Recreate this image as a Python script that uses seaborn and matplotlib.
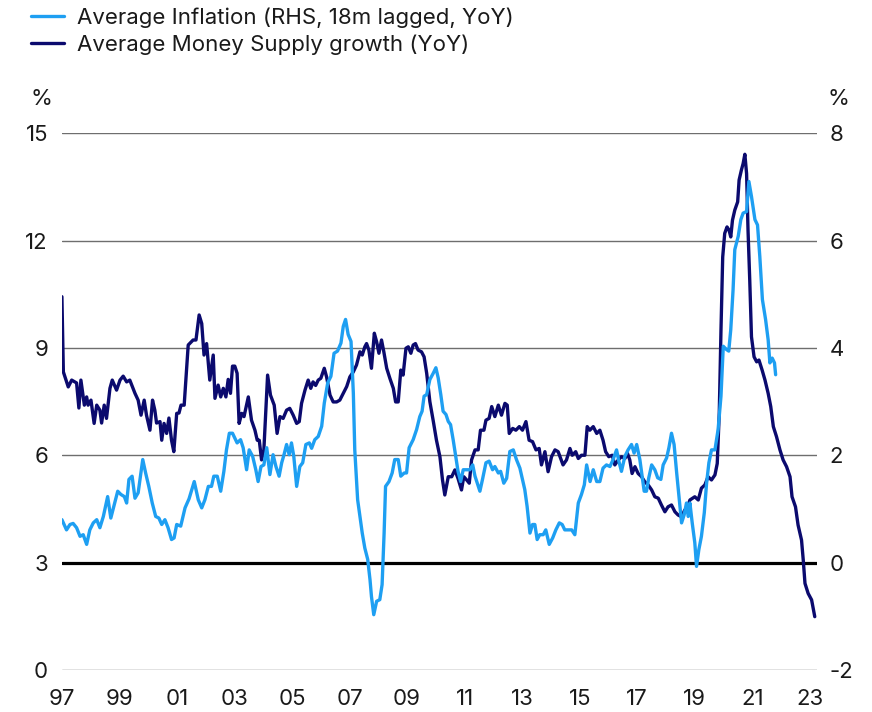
import matplotlib
matplotlib.use("Agg")
import matplotlib.pyplot as plt
import pandas as pd
import seaborn as sns

# Average money supply growth, YoY (left axis, %)
money_year = [
    1997.00, 1997.05, 1997.22, 1997.34, 1997.51, 1997.59, 1997.66, 1997.78, 1997.86, 1997.91,
    1998.01, 1998.12, 1998.21, 1998.32, 1998.38, 1998.47, 1998.55, 1998.67, 1998.75, 1998.90,
    1999.02, 1999.13, 1999.25, 1999.36, 1999.54, 1999.65, 1999.75, 1999.86, 1999.94, 2000.06,
    2000.15, 2000.23, 2000.29, 2000.41, 2000.47, 2000.55, 2000.64, 2000.72, 2000.81, 2000.89,
    2000.99, 2001.07, 2001.14, 2001.25, 2001.39, 2001.56, 2001.66, 2001.77, 2001.86, 2001.94,
    2002.03, 2002.14, 2002.26, 2002.32, 2002.43, 2002.52, 2002.61, 2002.70, 2002.78, 2002.86,
    2002.93, 2003.01, 2003.09, 2003.16, 2003.25, 2003.33, 2003.48, 2003.59, 2003.71, 2003.79,
    2003.86, 2003.94, 2004.02, 2004.15, 2004.25, 2004.38, 2004.48, 2004.58, 2004.69, 2004.81,
    2004.92, 2005.04, 2005.16, 2005.25, 2005.33, 2005.45, 2005.56, 2005.65, 2005.73, 2005.82,
    2005.91, 2006.00, 2006.12, 2006.20, 2006.32, 2006.43, 2006.55, 2006.66, 2006.78, 2006.90,
    2007.01, 2007.13, 2007.24, 2007.36, 2007.44, 2007.53, 2007.59, 2007.67, 2007.76, 2007.86,
    2007.94, 2008.02, 2008.11, 2008.19, 2008.29, 2008.40, 2008.52, 2008.60, 2008.69, 2008.78,
    2008.86, 2008.96, 2009.04, 2009.13, 2009.21, 2009.29, 2009.38, 2009.50, 2009.59, 2009.68,
    2009.79, 2009.91, 2010.02, 2010.14, 2010.23, 2010.31, 2010.43, 2010.55, 2010.66, 2010.77,
    2010.89, 2010.97, 2011.07, 2011.16, 2011.24, 2011.36, 2011.47, 2011.55, 2011.67, 2011.74,
    2011.85, 2011.94, 2012.05, 2012.17, 2012.28, 2012.40, 2012.48, 2012.55, 2012.67, 2012.78,
    2012.90, 2013.01, 2013.13, 2013.24, 2013.36, 2013.48, 2013.59, 2013.67, 2013.79, 2013.90,
    2014.02, 2014.14, 2014.25, 2014.42, 2014.54, 2014.66, 2014.74, 2014.86, 2014.95, 2015.06,
    2015.18, 2015.26, 2015.35, 2015.47, 2015.59, 2015.70, 2015.81, 2015.90, 2016.01, 2016.13,
    2016.22, 2016.34, 2016.45, 2016.57, 2016.66, 2016.74, 2016.82, 2016.92, 2017.03, 2017.15,
    2017.26, 2017.38, 2017.50, 2017.61, 2017.73, 2017.84, 2017.96, 2018.07, 2018.19, 2018.31,
    2018.42, 2018.54, 2018.65, 2018.71, 2018.83, 2019.00, 2019.12, 2019.23, 2019.35, 2019.46,
    2019.58, 2019.70, 2019.78, 2019.85, 2019.91, 2019.97, 2020.04, 2020.12, 2020.19, 2020.25,
    2020.31, 2020.39, 2020.49, 2020.54, 2020.62, 2020.68, 2020.74, 2020.80, 2020.85, 2020.91,
    2020.97, 2021.06, 2021.15, 2021.23, 2021.34, 2021.44, 2021.55, 2021.64, 2021.73, 2021.84,
    2021.96, 2022.07, 2022.19, 2022.31, 2022.38, 2022.50, 2022.59, 2022.71, 2022.77, 2022.83,
    2022.94, 2023.06, 2023.17,
]
money_growth = [
    10.43, 8.33, 7.91, 8.10, 8.02, 7.32, 8.10, 7.40, 7.63, 7.40,
    7.54, 6.89, 7.40, 7.26, 6.90, 7.40, 7.03, 7.87, 8.10, 7.82,
    8.10, 8.21, 8.05, 8.10, 7.73, 7.54, 7.12, 7.54, 7.12, 6.70,
    7.54, 7.26, 6.90, 6.94, 6.42, 6.89, 6.61, 7.04, 6.42, 6.10,
    7.17, 7.18, 7.40, 7.40, 9.08, 9.22, 9.22, 9.92, 9.68, 8.80,
    9.12, 8.10, 8.80, 7.59, 7.96, 7.63, 7.87, 7.63, 8.12, 7.73,
    8.49, 8.49, 8.29, 6.89, 7.17, 7.08, 7.63, 6.98, 6.70, 6.42,
    6.42, 5.87, 6.15, 8.24, 7.68, 7.40, 6.61, 7.08, 7.03, 7.26,
    7.31, 7.12, 6.89, 6.94, 7.45, 7.82, 8.10, 7.87, 8.05, 7.95,
    8.10, 8.15, 8.43, 8.19, 7.68, 7.49, 7.49, 7.54, 7.73, 7.92,
    8.19, 8.33, 8.52, 8.89, 8.80, 9.03, 9.12, 8.94, 8.43, 9.41,
    9.17, 8.85, 9.22, 8.89, 8.43, 8.15, 7.87, 7.49, 7.49, 8.38,
    8.24, 8.99, 9.03, 8.85, 9.08, 9.12, 8.94, 8.89, 8.75, 8.29,
    7.50, 6.95, 6.42, 5.96, 5.31, 4.89, 5.40, 5.40, 5.59, 5.35,
    5.03, 5.40, 5.31, 5.22, 5.87, 6.15, 6.15, 6.70, 6.70, 6.98,
    7.03, 7.36, 7.08, 7.40, 7.12, 7.45, 7.40, 6.61, 6.75, 6.70,
    6.80, 6.70, 6.94, 6.42, 6.38, 6.15, 6.19, 5.73, 6.10, 5.54,
    5.96, 6.15, 6.10, 5.73, 5.87, 6.19, 6.00, 6.10, 5.91, 6.00,
    6.00, 6.80, 6.70, 6.80, 6.61, 6.70, 6.42, 6.10, 5.96, 6.00,
    5.73, 5.87, 5.96, 5.91, 6.05, 5.87, 5.49, 5.68, 5.49, 5.40,
    5.26, 5.17, 5.03, 4.84, 4.80, 4.61, 4.42, 4.56, 4.61, 4.42,
    4.33, 4.28, 4.47, 4.47, 4.75, 4.84, 4.75, 5.08, 5.17, 5.40,
    5.31, 5.45, 5.77, 7.17, 9.50, 11.54, 12.20, 12.38, 12.29, 12.10,
    12.57, 12.85, 13.08, 13.69, 13.97, 14.15, 14.41, 13.87, 12.29, 10.89,
    9.31, 8.75, 8.61, 8.66, 8.38, 8.10, 7.73, 7.36, 6.80, 6.52,
    6.15, 5.87, 5.68, 5.40, 4.84, 4.56, 4.05, 3.63, 3.07, 2.42,
    2.14, 1.96, 1.49,
]

# Average inflation, 18m lagged, YoY (right axis, %)
infl_year = [
    1997.00, 1997.16, 1997.28, 1997.39, 1997.51, 1997.63, 1997.74, 1997.86, 1997.97, 1998.09,
    1998.21, 1998.32, 1998.44, 1998.59, 1998.70, 1998.82, 1998.94, 1999.05, 1999.17, 1999.25,
    1999.33, 1999.44, 1999.54, 1999.65, 1999.81, 1999.91, 2000.02, 2000.14, 2000.26, 2000.37,
    2000.47, 2000.58, 2000.69, 2000.81, 2000.90, 2000.99, 2001.13, 2001.28, 2001.42, 2001.60,
    2001.74, 2001.86, 2001.97, 2002.09, 2002.20, 2002.28, 2002.40, 2002.52, 2002.63, 2002.72,
    2002.82, 2002.93, 2003.01, 2003.09, 2003.21, 2003.30, 2003.42, 2003.51, 2003.63, 2003.74,
    2003.82, 2003.92, 2004.02, 2004.12, 2004.23, 2004.34, 2004.44, 2004.55, 2004.64, 2004.72,
    2004.81, 2004.90, 2004.98, 2005.06, 2005.16, 2005.27, 2005.37, 2005.48, 2005.60, 2005.68,
    2005.79, 2005.91, 2006.03, 2006.12, 2006.24, 2006.35, 2006.46, 2006.58, 2006.70, 2006.78,
    2006.86, 2006.95, 2007.05, 2007.13, 2007.18, 2007.28, 2007.36, 2007.44, 2007.53, 2007.63,
    2007.71, 2007.76, 2007.84, 2007.94, 2008.05, 2008.13, 2008.20, 2008.25, 2008.37, 2008.48,
    2008.57, 2008.69, 2008.78, 2008.90, 2008.98, 2009.07, 2009.21, 2009.33, 2009.44, 2009.52,
    2009.59, 2009.68, 2009.79, 2009.91, 2010.00, 2010.08, 2010.17, 2010.25, 2010.35, 2010.43,
    2010.51, 2010.60, 2010.69, 2010.77, 2010.86, 2010.95, 2011.07, 2011.18, 2011.28, 2011.36,
    2011.44, 2011.53, 2011.62, 2011.74, 2011.85, 2011.97, 2012.05, 2012.17, 2012.25, 2012.36,
    2012.46, 2012.57, 2012.69, 2012.80, 2012.92, 2013.01, 2013.09, 2013.17, 2013.27, 2013.36,
    2013.44, 2013.52, 2013.61, 2013.73, 2013.82, 2013.94, 2014.06, 2014.17, 2014.29, 2014.39,
    2014.48, 2014.60, 2014.72, 2014.83, 2014.95, 2015.06, 2015.16, 2015.24, 2015.36, 2015.47,
    2015.59, 2015.70, 2015.81, 2015.93, 2016.05, 2016.16, 2016.28, 2016.36, 2016.45, 2016.57,
    2016.68, 2016.80, 2016.89, 2016.98, 2017.09, 2017.17, 2017.24, 2017.32, 2017.40, 2017.50,
    2017.61, 2017.71, 2017.82, 2017.90, 2018.02, 2018.10, 2018.19, 2018.28, 2018.37, 2018.45,
    2018.54, 2018.63, 2018.71, 2018.77, 2018.83, 2018.91, 2019.00, 2019.06, 2019.14, 2019.23,
    2019.33, 2019.41, 2019.49, 2019.58, 2019.70, 2019.81, 2019.91, 2019.99, 2020.10, 2020.18,
    2020.25, 2020.33, 2020.39, 2020.51, 2020.60, 2020.68, 2020.80, 2020.88, 2020.97, 2021.09,
    2021.18, 2021.26, 2021.35, 2021.46, 2021.55, 2021.61, 2021.69, 2021.77, 2021.81,
]
infl_value = [
    0.80, 0.61, 0.71, 0.73, 0.65, 0.49, 0.52, 0.34, 0.61, 0.74,
    0.80, 0.65, 0.86, 1.23, 0.83, 1.08, 1.33, 1.27, 1.23, 1.11,
    1.55, 1.61, 1.20, 1.30, 1.92, 1.67, 1.42, 1.11, 0.86, 0.83,
    0.71, 0.80, 0.65, 0.43, 0.46, 0.71, 0.68, 1.02, 1.19, 1.51,
    1.17, 1.02, 1.17, 1.42, 1.42, 1.61, 1.61, 1.33, 1.70, 2.10,
    2.41, 2.41, 2.32, 2.23, 2.29, 2.14, 1.73, 2.10, 1.98, 1.73,
    1.51, 1.79, 1.82, 2.14, 1.64, 2.01, 1.79, 1.61, 1.86, 2.01,
    2.20, 2.01, 2.23, 1.98, 1.42, 1.79, 1.86, 2.20, 2.23, 2.13,
    2.29, 2.35, 2.54, 2.97, 3.35, 3.47, 3.90, 3.94, 4.09, 4.40,
    4.53, 4.25, 4.12, 3.16, 2.10, 1.17, 0.86, 0.55, 0.27, 0.06,
    -0.32, -0.63, -0.97, -0.72, -0.69, -0.41, 0.55, 1.42, 1.51, 1.67,
    1.92, 1.92, 1.61, 1.67, 1.67, 2.14, 2.29, 2.48, 2.72, 2.82,
    3.10, 3.13, 3.41, 3.53, 3.63, 3.44, 3.13, 2.82, 2.76, 2.63,
    2.57, 2.29, 1.98, 1.70, 1.51, 1.73, 1.73, 1.73, 1.82, 1.61,
    1.48, 1.33, 1.55, 1.86, 1.89, 1.73, 1.79, 1.67, 1.70, 1.48,
    1.57, 2.07, 2.10, 1.92, 1.76, 1.55, 1.36, 1.05, 0.55, 0.71,
    0.71, 0.43, 0.52, 0.52, 0.61, 0.34, 0.46, 0.61, 0.74, 0.71,
    0.61, 0.61, 0.61, 0.52, 1.11, 1.27, 1.45, 1.82, 1.51, 1.73,
    1.51, 1.51, 1.76, 1.82, 1.79, 1.92, 2.10, 1.89, 1.70, 1.98,
    2.10, 2.20, 2.04, 2.20, 1.92, 1.61, 1.33, 1.33, 1.58, 1.82,
    1.73, 1.58, 1.55, 1.82, 1.95, 2.14, 2.41, 2.20, 1.67, 1.23,
    0.74, 0.89, 1.11, 0.86, 1.11, 0.74, 0.37, -0.07, 0.24, 0.49,
    0.93, 1.48, 1.86, 2.10, 2.10, 2.48, 3.10, 4.03, 3.97, 3.94,
    4.34, 5.08, 5.83, 6.08, 6.39, 6.51, 6.54, 7.10, 6.82, 6.39,
    6.29, 5.70, 4.90, 4.53, 4.15, 3.72, 3.81, 3.72, 3.50,
]

left_ticks = [0, 3, 6, 9, 12, 15]
right_ticks = [-2, 0, 2, 4, 6, 8]
year_ticks = list(range(1997, 2024, 2))

NAVY = "#0b0a6e"
LIGHT = "#1e9ff2"
TEXT = "#1a1a1a"
FS = 16

sns.set_theme(style="white")
plt.rcParams["font.family"] = ["Inter", "DejaVu Sans"]
plt.rcParams["axes.unicode_minus"] = False

money = pd.DataFrame({"year": money_year, "value": money_growth})
infl = pd.DataFrame({"year": infl_year, "value": infl_value})

fig = plt.figure(figsize=(8.72, 7.12), dpi=100)
ax = fig.add_axes([0.071, 0.059, 0.866, 0.754])
ax2 = ax.twinx()

sns.lineplot(data=money, x="year", y="value", ax=ax, color=NAVY, linewidth=2.4,
             label="Average Money Supply growth (YoY)", legend=False)
sns.lineplot(data=infl, x="year", y="value", ax=ax2, color=LIGHT, linewidth=2.4,
             label="Average Inflation (RHS, 18m lagged, YoY)", legend=False)

ax.set_ylim(0, 15)
ax2.set_ylim(-2, 8)
ax.set_xlim(1997, 2023.25)
ax.set_yticks(left_ticks)
ax2.set_yticks(right_ticks)
ax.set_xticks(year_ticks)
ax.set_xticklabels([f"{y % 100:02d}" for y in year_ticks])

for y in left_ticks:
    ax.axhline(y, color="#6e6e6e", linewidth=1.0, zorder=0)
ax.axhline(3, color="black", linewidth=2.3, zorder=1)

for a in (ax, ax2):
    for s in a.spines.values():
        s.set_visible(False)
    a.set_xlabel("")
    a.set_ylabel("")
    a.grid(False)
ax.tick_params(axis="both", length=0, labelsize=FS, colors=TEXT)
ax.tick_params(axis="y", pad=10)
ax.tick_params(axis="x", pad=14)
ax2.tick_params(axis="y", length=0, labelsize=FS, colors=TEXT, pad=9)

fig.text(0.048, 0.852, "%", fontsize=FS, ha="center", color=TEXT)
fig.text(0.962, 0.852, "%", fontsize=FS, ha="center", color=TEXT)

h1, l1 = ax2.get_legend_handles_labels()
h2, l2 = ax.get_legend_handles_labels()
fig.legend(h1 + h2, l1 + l2, loc="upper left", bbox_to_anchor=(0.036, 0.990),
           frameon=False, prop={"size": FS}, labelcolor=TEXT, handlelength=1.45,
           handletextpad=0.6, labelspacing=0.31, borderaxespad=0, borderpad=0)

fig.savefig("out.png", dpi=100)
